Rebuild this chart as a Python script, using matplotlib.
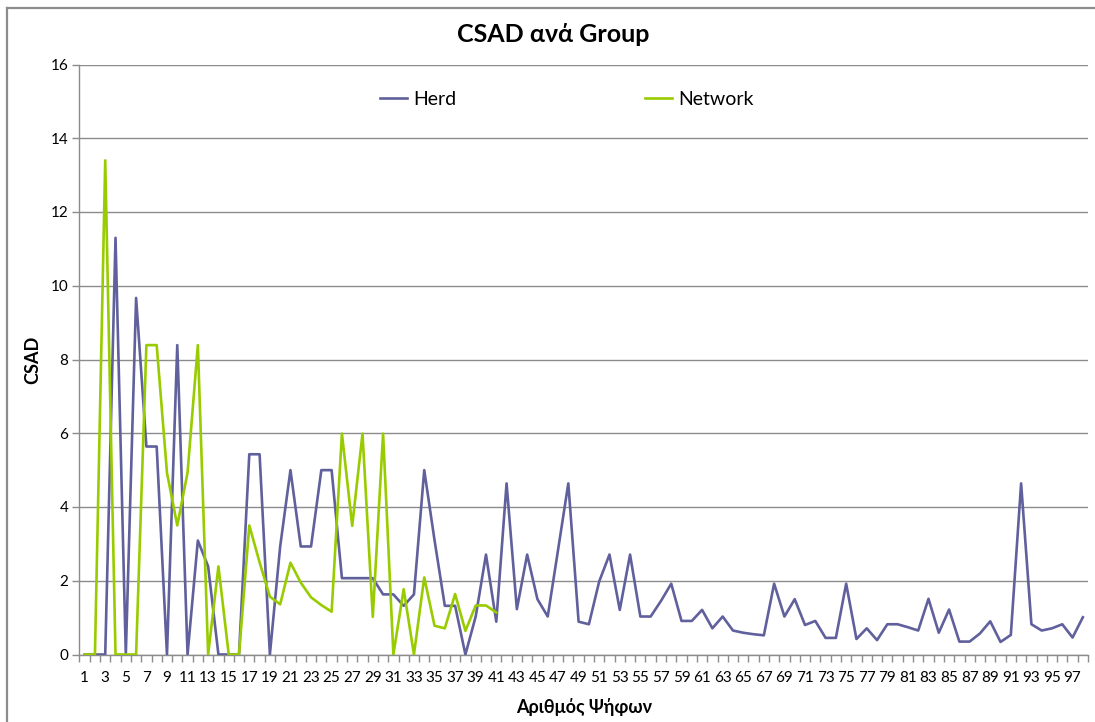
import matplotlib
matplotlib.use("Agg")
import matplotlib.pyplot as plt
from matplotlib.lines import Line2D
import numpy as np

plt.rcParams['font.family'] = ['Lato', 'Noto Sans', 'DejaVu Sans']

# CSAD per group
herd = [0, 0, 0, 11.3, 0, 9.67, 5.64, 5.64, 0, 8.39,
        0, 3.09, 2.39, 0, 0, 0, 5.43, 5.43, 0, 2.93,
        5.0, 2.93, 2.93, 5.0, 5.0, 2.07, 2.07, 2.07, 2.07, 1.63,
        1.63, 1.32, 1.63, 5.0, 3.1, 1.32, 1.32, 0, 1.03, 2.71,
        0.89, 4.64, 1.23, 2.71, 1.5, 1.03, 2.83, 4.64, 0.89, 0.82,
        1.98, 2.71, 1.21, 2.71, 1.03, 1.03, 1.45, 1.92, 0.91, 0.91,
        1.21, 0.71, 1.03, 0.65, 0.59, 0.55, 0.52, 1.92, 1.03, 1.5,
        0.8, 0.91, 0.45, 0.45, 1.92, 0.42, 0.71, 0.39, 0.82, 0.82,
        0.74, 0.65, 1.51, 0.59, 1.22, 0.35, 0.35, 0.57, 0.9, 0.34,
        0.53, 4.64, 0.82, 0.65, 0.71, 0.82, 0.46, 1.01]
network = [0, 0, 13.4, 0, 0, 0, 8.39, 8.39, 4.93, 3.5,
           4.93, 8.39, 0, 2.39, 0, 0, 3.5, 2.5, 1.57, 1.36,
           2.49, 1.95, 1.55, 1.34, 1.16, 5.99, 3.49, 5.99, 1.02, 5.99,
           0, 1.77, 0, 2.09, 0.78, 0.71, 1.64, 0.64, 1.33, 1.33,
           1.14]

x_herd = np.arange(1, len(herd) + 1)
x_net = np.arange(1, len(network) + 1)

W, H = 1095, 722
fig = plt.figure(figsize=(W / 100, H / 100), dpi=100)
ax = fig.add_axes([79.5 / W, 1 - 654.5 / H, (1088 - 79.5) / W, 590 / H])

grid_c = '#8c8c8c'
ax.plot(x_herd, herd, color='#60609c', lw=1.9, label='Herd', zorder=3)
ax.plot(x_net, network, color='#99cc00', lw=1.9, label='Network', zorder=4)

ax.set_xlim(0.5, len(herd) + 0.5)
ax.set_ylim(0, 16)
ax.set_yticks(np.arange(0, 17, 2))
ax.yaxis.grid(True, color=grid_c, lw=1)
ax.set_axisbelow(True)

# labels on every second category, tick marks on category boundaries
ax.set_xticks(x_herd[::2])
ax.set_xticklabels([str(v) for v in x_herd[::2]])
ax.set_xticks(np.arange(0.5, len(herd) + 1, 1), minor=True)
ax.tick_params(axis='x', which='major', length=0, pad=12, labelsize=11)
ax.tick_params(axis='x', which='minor', length=5, color=grid_c, width=1)
ax.tick_params(axis='y', length=5, color=grid_c, width=1, labelsize=11, pad=3)

for s in ['top', 'right']:
    ax.spines[s].set_visible(False)
for s in ['left', 'bottom']:
    ax.spines[s].set_color(grid_c)
    ax.spines[s].set_linewidth(1)

ax.set_ylabel('CSAD', fontsize=13, fontweight='bold', labelpad=7)
ax.set_xlabel('Αριθμός Ψήφων', fontsize=13, fontweight='bold', labelpad=9)
fig.text(553 / W, 1 - 35 / H, 'CSAD ανά Group', ha='center', va='center',
         fontsize=18, fontweight='bold')

ax.legend(loc='center', bbox_to_anchor=(0.483, 0.9415), ncol=2, frameon=False,
          fontsize=14, handlelength=1.4, handletextpad=0.3, columnspacing=9.7)

# chart area border
fig.add_artist(Line2D([7 / W, 7 / W], [0, 1 - 8 / H], color=grid_c, lw=1.6))
fig.add_artist(Line2D([7 / W, 1], [1 - 8 / H, 1 - 8 / H], color=grid_c, lw=1.6))

fig.savefig('out.png', dpi=100)
